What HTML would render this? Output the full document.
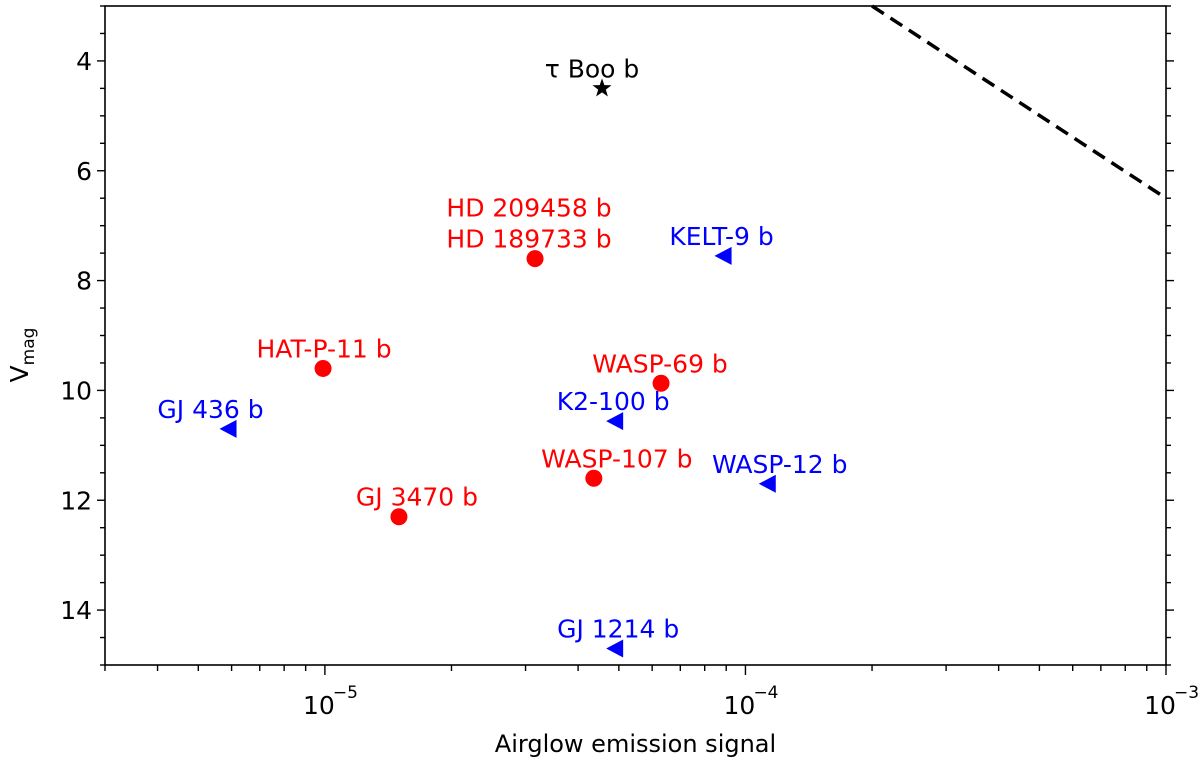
<!DOCTYPE html>
<html><head><meta charset="utf-8"><style>
body{margin:0;background:#fff;}
svg text{font-family:"DejaVu Sans","Liberation Sans",sans-serif;}
</style></head><body>
<svg id="chart" width="1200" height="761" viewBox="0 0 1200 761" xmlns="http://www.w3.org/2000/svg"></svg>
<script>
const names=["τ Boo b","HD 189733 b","KELT-9 b","HAT-P-11 b","WASP-69 b","GJ 436 b","K2-100 b","WASP-107 b","WASP-12 b","GJ 3470 b","GJ 1214 b"];
const signal=[4.56e-5,3.16e-5,8.87e-5,9.9e-6,6.3e-5,5.9e-6,4.9e-5,4.36e-5,1.13e-4,1.5e-5,4.9e-5];
const vmag=[4.5,7.6,7.55,9.6,9.87,10.7,10.56,11.6,11.7,12.3,14.7];
const kind=["star","circle","tri","circle","circle","tri","tri","circle","tri","circle","tri"];
const labelDx=[-10,-6,-2,1,-1,-18,-2,23,12,18,3];
const limitX=[2e-4,1e-3];
const limitY=[3,6.5];
const yTicks=[4,6,8,10,12,14];
const xDecades=[-5,-4,-3];

const L=105,R=1166,T=6,B=665;
const xMin=Math.log10(3e-6),xMax=-3,yMin=3,yMax=15;
const X=v=>L+(Math.log10(v)-xMin)/(xMax-xMin)*(R-L);
const Y=v=>T+(v-yMin)/(yMax-yMin)*(B-T);
const svg=document.getElementById('chart');
const NS="http://www.w3.org/2000/svg";
function mk(tag,at,txt){const e=document.createElementNS(NS,tag);for(const k in at)e.setAttribute(k,at[k]);if(txt!==undefined)e.textContent=txt;svg.appendChild(e);return e;}

let f=mk('rect',{x:L,y:T,width:R-L,height:B-T,fill:'none',stroke:'#000','stroke-width':1.6});



for(let v=3;v<=15.001;v+=0.5){
  const y=Y(v),maj=yTicks.includes(v),len=maj?8:5;
  let t=mk('line',{x1:L-len,x2:L,y1:y,y2:y,stroke:'#000','stroke-width':1.4});
  
  
  let t2=mk('line',{x1:R,x2:R+len,y1:y,y2:y,stroke:'#000','stroke-width':1.4});
  
  
}
yTicks.forEach(v=>{
  let t=mk('text',{x:L-13,y:Y(v)+9,'text-anchor':'end','font-size':25},String(v));
  
  
});
for(let d=-6;d<=-4;d++){for(let m=1;m<10;m++){
  const v=m*Math.pow(10,d);if(v<3e-6-1e-12)continue;
  const x=X(v),len=m===1?10:6;
  let t=mk('line',{x1:x,x2:x,y1:B,y2:B+len,stroke:'#000','stroke-width':1.4});
  
  
}}
mk('line',{x1:R,x2:R,y1:B,y2:B+10,stroke:'#000','stroke-width':1.4});
xDecades.forEach(d=>{
  const x=X(Math.pow(10,d));
  let t=mk('text',{x:x-6,y:B+49,'text-anchor':'middle','font-size':25},'10');
  
  
  let e=mk('text',{x:x+8,y:B+33,'font-size':17},'−'+(-d));
  
  
});
let xt=mk('text',{x:(L+R)/2,y:752,'text-anchor':'middle','font-size':24},'Airglow emission signal');


let yt=mk('text',{x:0,y:0,'font-size':25,transform:'translate(28,355) rotate(-90)','text-anchor':'middle'});
yt.innerHTML='V<tspan font-size="17" dy="6">mag</tspan>';



let ll=mk('line',{x1:X(limitX[0]),y1:Y(limitY[0]),x2:X(limitX[1]),y2:Y(limitY[1]),stroke:'#000','stroke-width':3.5,'stroke-dasharray':'14 8'});



names.forEach((n,i)=>{
  const x=X(signal[i]),y=Y(vmag[i]);
  const col=kind[i]==='tri'?'#0000ff':kind[i]==='circle'?'#ff0000':'#000';
  let m;
  if(kind[i]==='circle') m=mk('circle',{cx:x,cy:y,r:8.5,fill:col});
  else if(kind[i]==='tri') m=mk('polygon',{points:`${x-9},${y} ${x+8},${y-9} ${x+8},${y+9}`,fill:col});
  else{let p=[];for(let k=0;k<10;k++){const a=-Math.PI/2+k*Math.PI/5,r=k%2?4:10;p.push((x+r*Math.cos(a)).toFixed(1)+','+(y+r*Math.sin(a)).toFixed(1));}m=mk('polygon',{points:p.join(' '),fill:col});}
  
  
  let t=mk('text',{x:x+labelDx[i],y:y-11,'text-anchor':'middle','font-size':25,fill:col},n);
  
  
  if(n==='HD 189733 b'){
    let t2=mk('text',{x:x+labelDx[i],y:y-42,'text-anchor':'middle','font-size':25,fill:col},'HD 209458 b');
    
    
  }
});
</script>
</body></html>
